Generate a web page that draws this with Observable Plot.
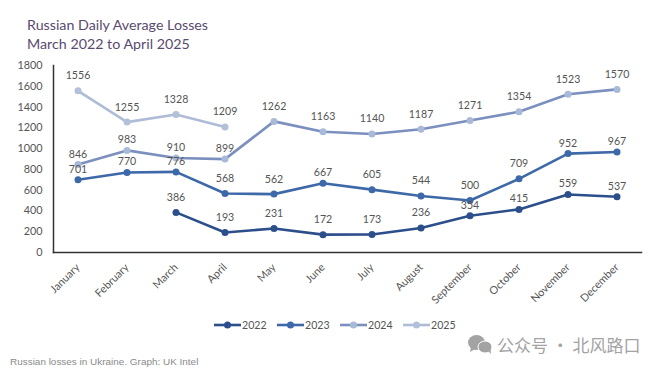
<!DOCTYPE html>
<html><head><meta charset="utf-8">
<script src="https://cdn.jsdelivr.net/npm/d3@7"></script>
<script src="https://cdn.jsdelivr.net/npm/@observablehq/plot@0.6"></script>
<style>
html,body{margin:0;padding:0;background:#fff;width:660px;height:370px;overflow:hidden;position:relative}
#title{position:absolute;left:27px;top:15px;font:14.25px/19px Lato,sans-serif;color:#5a4a70}
#chart{position:absolute;left:0;top:58px}
#legend span.i{position:absolute;top:317px;font:10.6px/16px Lato,sans-serif;color:#555}
#legend svg{position:absolute;top:320px}
#caption{position:absolute;left:10px;top:355px;font:9.95px/14px "Liberation Sans",sans-serif;color:#8a8a8a}
#mark{position:absolute;left:497px;top:333px;font:17px/24px "Noto Sans CJK SC",sans-serif;color:#a3a3a3;letter-spacing:0;white-space:nowrap}
#icon{position:absolute;left:467px;top:334px}
</style></head><body>
<div id="title">Russian Daily Average Losses<br>March 2022 to April 2025</div>
<div id="chart"></div>
<div id="legend"></div>
<div id="caption">Russian losses in Ukraine. Graph: UK Intel</div>
<svg id="icon" width="28" height="22" viewBox="0 0 28 22"><ellipse cx="9.5" cy="8.5" rx="8.5" ry="7.5" fill="#a3a3a3"/><path d="M4 13l-1 5 5-3z" fill="#a3a3a3"/><ellipse cx="18" cy="13" rx="7" ry="6" fill="#a3a3a3" stroke="#fff"/><path d="M21 17l3 3-.5-5z" fill="#a3a3a3"/></svg>
<div id="mark">公众号 · 北风路口</div>
<script>
const months = ["January","February","March","April","May","June","July","August","September","October","November","December"];
const y2022 = [null,null,386,193,231,172,173,236,354,415,559,537];
const y2023 = [701,770,776,568,562,667,605,544,500,709,952,967];
const y2024 = [846,983,910,899,1262,1163,1140,1187,1271,1354,1523,1570];
const y2025 = [1556,1255,1328,1209,null,null,null,null,null,null,null,null];
const years = ["2022","2023","2024","2025"];
const seriesValues = [y2022,y2023,y2024,y2025];
const lineColors = ["#2c4f8c","#3d69a8","#7b90bf","#aebcd8"];
const dotColors = ["#2c4f8c","#3d69a8","#a9b9d8","#b3c0da"];
const yTicks = [0,200,400,600,800,1000,1200,1400,1600,1800];
// labels that sit closer to their marker in the reference
const closeLabels = new Set(["2023-701","2024-846","2024-983","2024-910","2024-899","2023-770","2023-776","2023-667","2023-952","2023-967","2022-559","2022-537","2022-415","2022-354"]);

const rows = years.flatMap((year,i)=>months.map((month,m)=>({year,month,value:seriesValues[i][m]})).filter(d=>d.value!=null));
const key = d=>`${d.year}-${d.value}`;
const isClose = d=>closeLabels.has(key(d));
const labelFont = {fontSize:10.6, fill:"#555", fontFamily:"Lato, sans-serif"};

const plot = Plot.plot({
  width:660, height:250, marginLeft:53, marginRight:19, marginTop:7, marginBottom:56,
  style:{background:"transparent",fontFamily:"Lato, sans-serif"},
  x:{type:"band",domain:months,padding:0,label:null},
  y:{domain:[0,1800],label:null},
  color:{domain:years,range:lineColors},
  marks:[
    Plot.frame({anchor:"left",stroke:"#333",strokeWidth:1.5}),
    Plot.frame({anchor:"bottom",stroke:"#333",strokeWidth:1.5}),
    Plot.axisY({ticks:yTicks,tickFormat:d=>String(d),tickSize:0,tickPadding:11,label:null,fontSize:10.8,fill:"#555"}),
    Plot.axisX({tickSize:0,tickRotate:-45,tickPadding:13,label:null,fontSize:10.8,fill:"#555"}),
    Plot.line(rows,{x:"month",y:"value",z:"year",stroke:"year",strokeWidth:2.6}),
    Plot.dot(rows,{x:"month",y:"value",r:3.5,fill:d=>dotColors[years.indexOf(d.year)],stroke:"none"}),
    Plot.text(rows.filter(d=>!isClose(d)),{x:"month",y:"value",text:d=>String(d.value),dy:-15,...labelFont}),
    Plot.text(rows.filter(isClose),{x:"month",y:"value",text:d=>String(d.value),dy:-10.5,...labelFont})
  ]
});
document.getElementById("chart").append(plot);

const legend = document.getElementById("legend");
const legendX = [214,277,340,403];
years.forEach((year,i)=>{
  const x = legendX[i];
  legend.insertAdjacentHTML("beforeend",
    `<svg width="28" height="10" style="left:${x}px"><line x1="0" x2="27" y1="5" y2="5" stroke="${lineColors[i]}" stroke-width="2.6"/><circle cx="13.5" cy="5" r="3.5" fill="${dotColors[i]}"/></svg><span class="i" style="left:${x+28}px">${year}</span>`);
});
</script>
</body></html>
